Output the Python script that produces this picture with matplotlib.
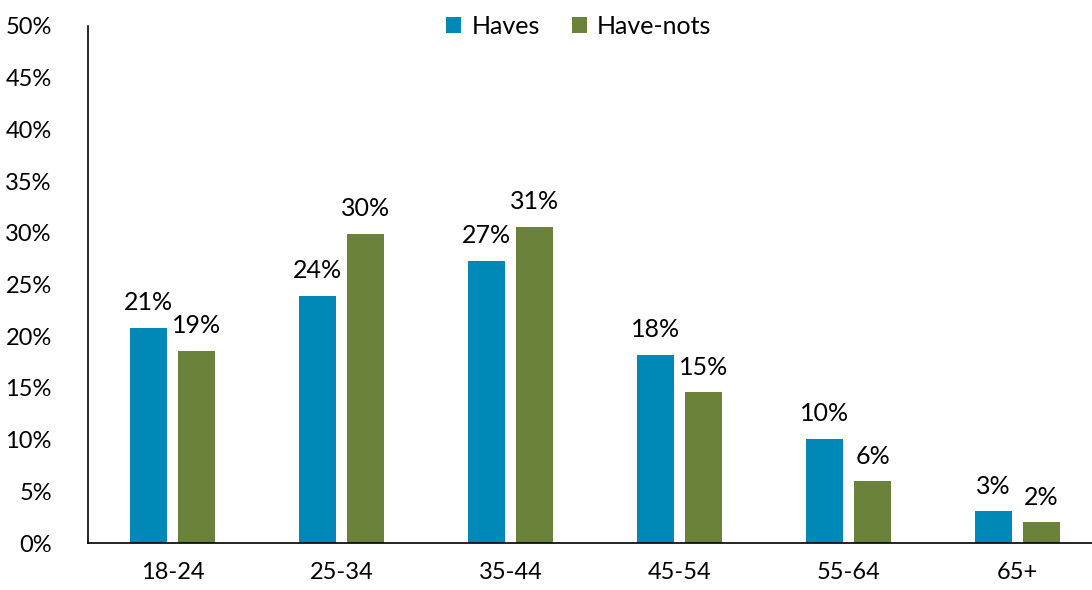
import numpy as np
import matplotlib.pyplot as plt

plt.rcParams['font.family'] = ['Lato', 'DejaVu Sans']

age_groups = ['18-24', '25-34', '35-44', '45-54', '55-64', '65+']
haves = [20.8, 23.9, 27.3, 18.2, 10.1, 3.1]
have_nots = [18.6, 29.9, 30.6, 14.6, 6.0, 2.0]

blue = '#0089B6'
green = '#6B823B'

fig = plt.figure(figsize=(10.92, 5.90), dpi=100)
ax = fig.add_axes([88 / 1092, 47 / 590, 1 - 88 / 1092, 517 / 590])

x = np.arange(len(age_groups))
w = 0.219
off = 0.142
b1 = ax.bar(x - off, haves, w, color=blue, label='Haves')
b2 = ax.bar(x + off, have_nots, w, color=green, label='Have-nots')

for bars, vals in [(b1, haves), (b2, have_nots)]:
    for b, v in zip(bars, vals):
        ax.text(b.get_x() + b.get_width() / 2, v + 1.3, f'{round(v):.0f}%',
                ha='center', va='bottom', fontsize=18)

ax.set_xlim(-0.5, 5.44)
ax.set_ylim(0, 50)
ax.set_yticks(range(0, 51, 5))
ax.set_yticklabels([f'{t}%' for t in range(0, 51, 5)])
ax.set_xticks(x)
ax.set_xticklabels(age_groups)
ax.tick_params(axis='both', length=0, labelsize=17)
ax.tick_params(axis='x', pad=14)
ax.tick_params(axis='y', pad=26)
for s in ['top', 'right']:
    ax.spines[s].set_visible(False)
ax.spines['left'].set_linewidth(1.2)
ax.spines['bottom'].set_linewidth(1.2)

ax.legend(loc='upper center', bbox_to_anchor=(0.489, 1.065), ncol=2, frameon=False,
          fontsize=18, handlelength=0.6, handleheight=0.6, handletextpad=0.4,
          columnspacing=1.3)

fig.savefig('out.png', dpi=100)
